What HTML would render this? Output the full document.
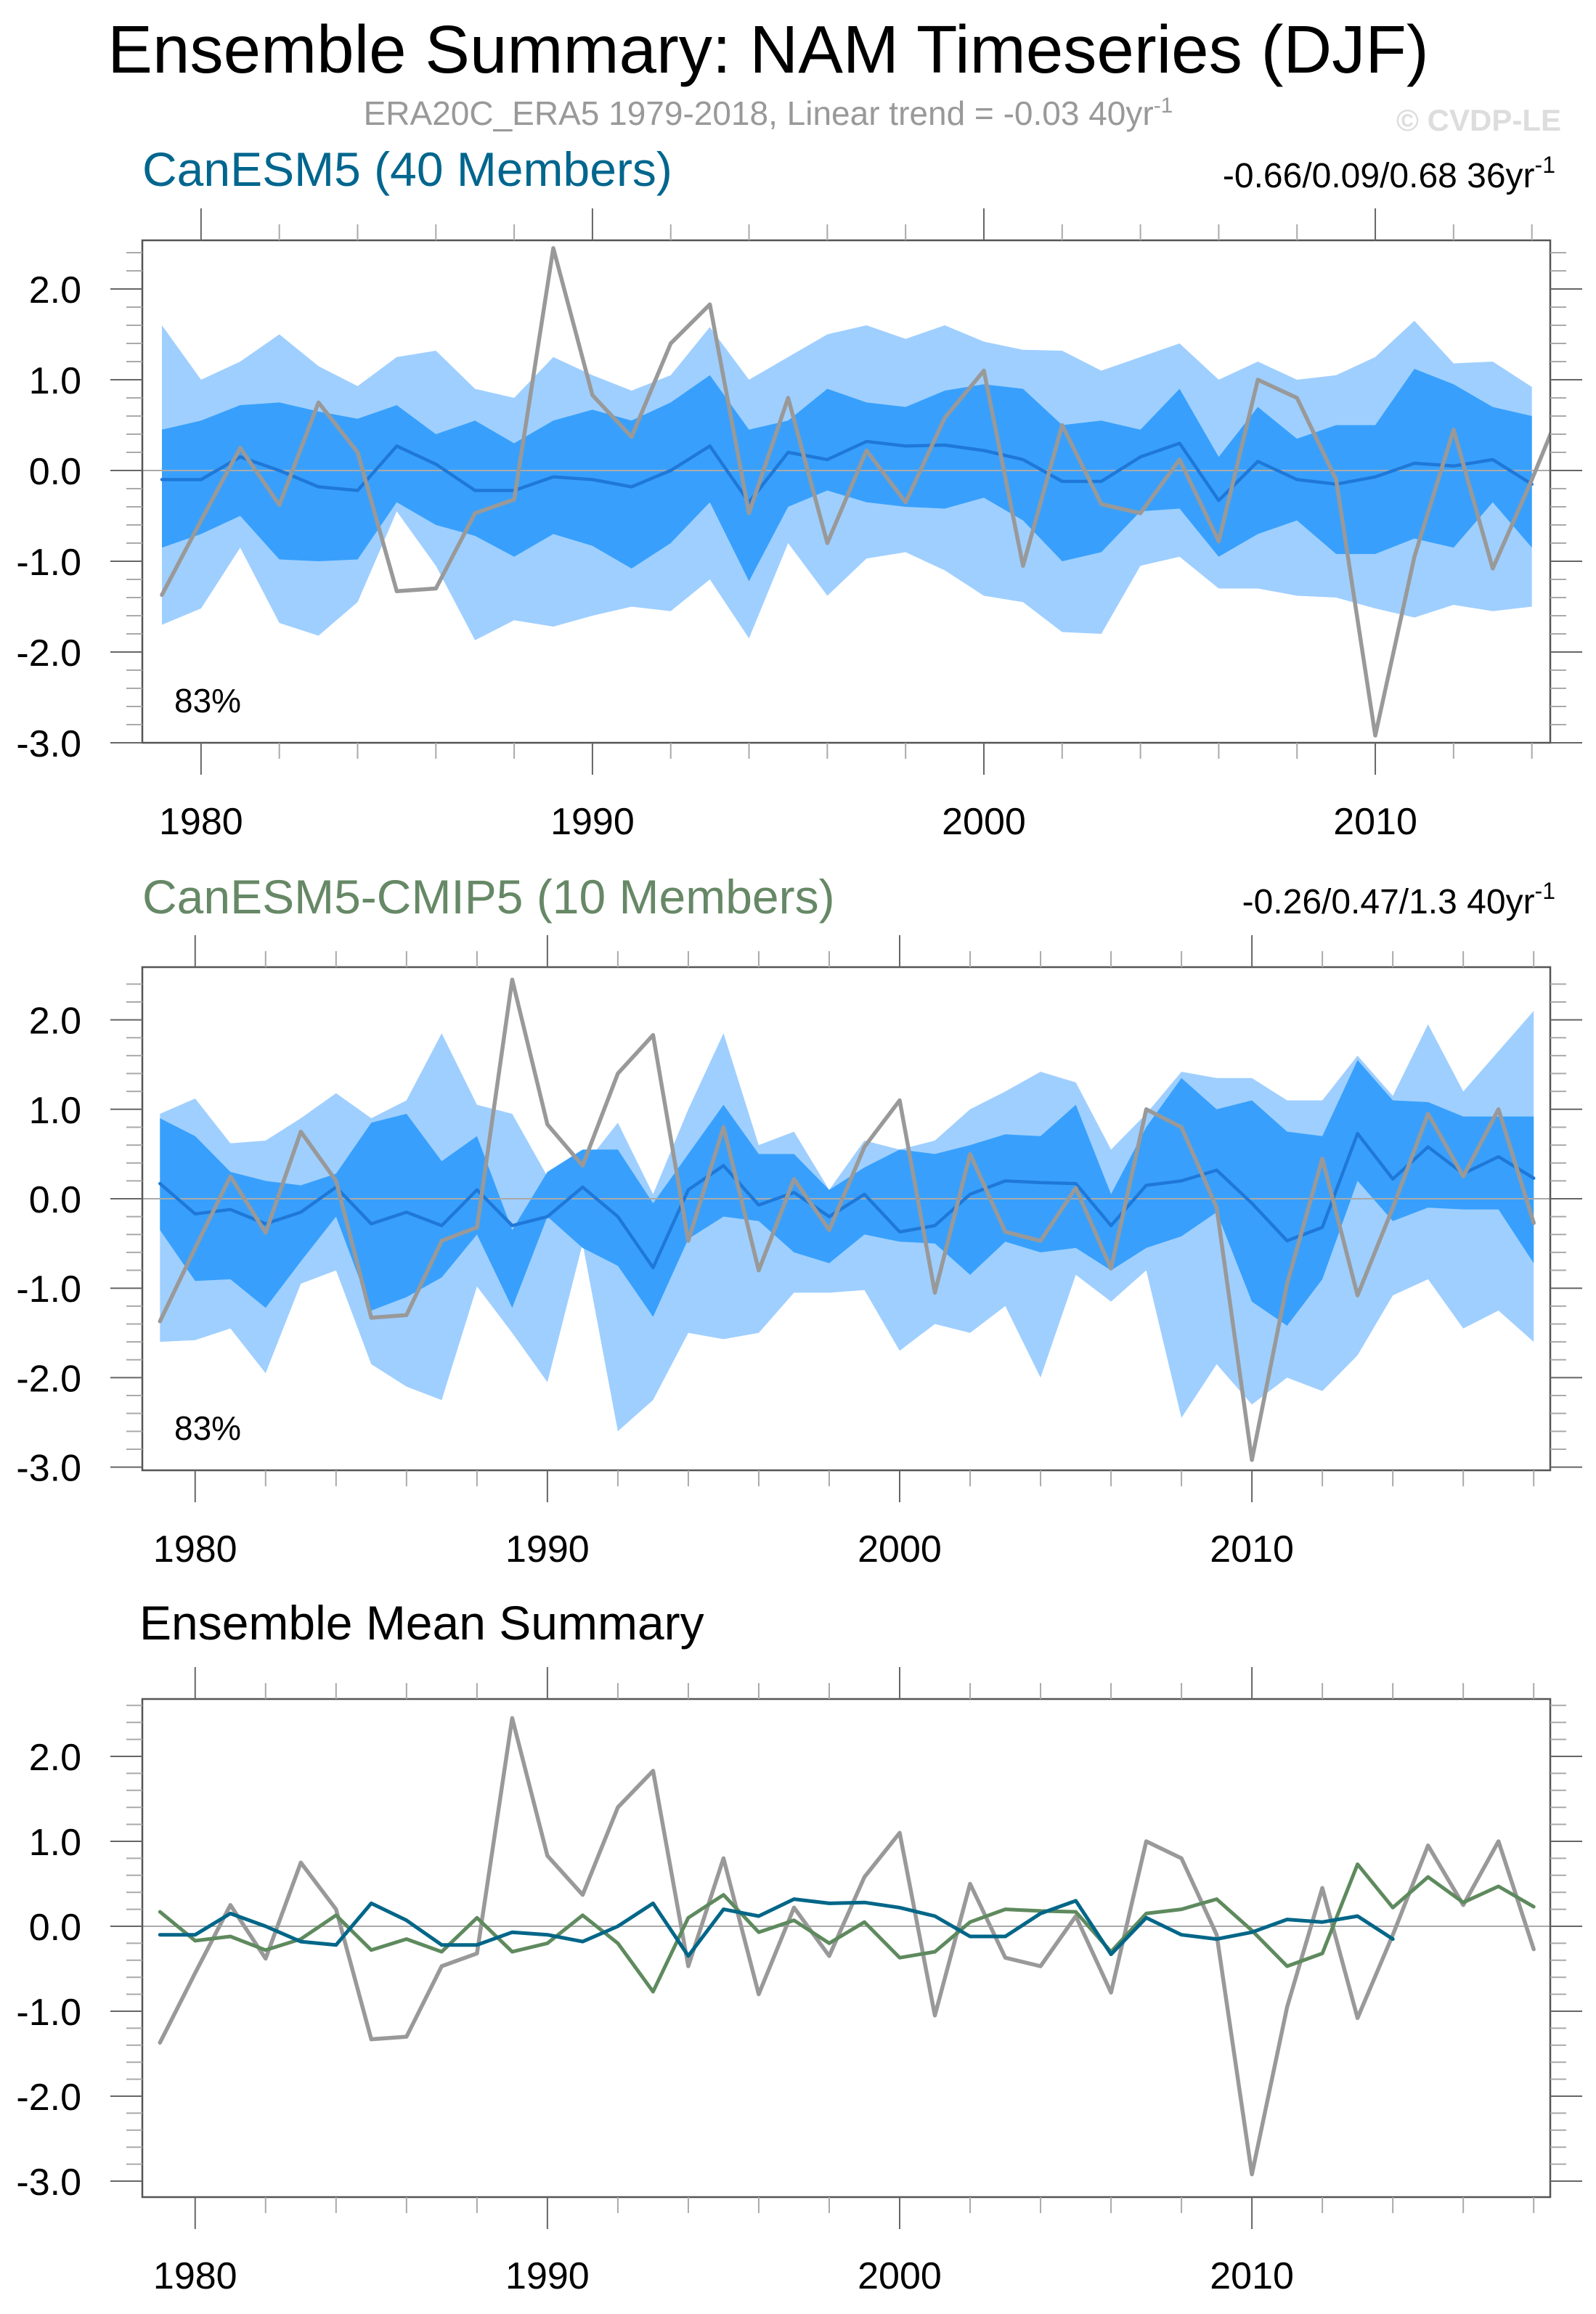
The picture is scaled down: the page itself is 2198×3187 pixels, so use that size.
<!DOCTYPE html>
<html><head><meta charset="utf-8"><style>
html,body{margin:0;padding:0;background:#fff;}
svg{display:block;font-family:"Liberation Sans",Arial,sans-serif;}
</style></head><body>
<svg id="chart" width="2198" height="3187" viewBox="0 0 2198 3187" xmlns="http://www.w3.org/2000/svg">
<text x="1058" y="100" font-size="92.5" text-anchor="middle" fill="#000">Ensemble Summary: NAM Timeseries (DJF)</text>
<text x="1058" y="172" font-size="46" text-anchor="middle" fill="#999">ERA20C_ERA5 1979-2018, Linear trend = -0.03 40yr<tspan dy="-17" font-size="30">-1</tspan></text>
<text x="2150" y="180" font-size="42" font-weight="bold" text-anchor="end" fill="#ddd">© CVDP-LE</text>

<text x="196" y="256" font-size="66" fill="#00668e">CanESM5 (40 Members)</text>
<text x="2142" y="258" font-size="48" text-anchor="end" fill="#000">-0.66/0.09/0.68 36yr<tspan dy="-20" font-size="32">-1</tspan></text>
<text x="196" y="1258" font-size="66" fill="#668866">CanESM5-CMIP5 (10 Members)</text>
<text x="2142" y="1258" font-size="48" text-anchor="end" fill="#000">-0.26/0.47/1.3 40yr<tspan dy="-20" font-size="32">-1</tspan></text>
<text x="192" y="2258" font-size="66" fill="#000">Ensemble Mean Summary</text>
<g id="plots"></g>
</svg>
<script>
const years1 = [];
for (let y = 1979; y <= 2014; y++) years1.push(y);
const years2 = [];
for (let y = 1979; y <= 2018; y++) years2.push(y);
const obsValues = [-1.37,-0.55,0.25,-0.38,0.75,0.2,-1.33,-1.3,-0.47,-0.32,2.45,0.83,0.37,1.4,1.83,-0.47,0.8,-0.8,0.22,-0.35,0.58,1.1,-1.05,0.5,-0.37,-0.47,0.12,-0.78,1.0,0.8,-0.1,-2.92,-0.95,0.45,-1.08,-0.1,0.95,0.25,1.0,-0.27];
const can5Mean = [-0.1,-0.1,0.15,0.0,-0.18,-0.22,0.27,0.07,-0.22,-0.22,-0.07,-0.1,-0.18,0.0,0.27,-0.35,0.2,0.12,0.32,0.27,0.28,0.22,0.12,-0.12,-0.12,0.15,0.3,-0.33,0.1,-0.1,-0.15,-0.07,0.08,0.05,0.12,-0.15];
const can5DarkUp = [0.45,0.55,0.72,0.75,0.65,0.57,0.72,0.4,0.55,0.3,0.55,0.67,0.55,0.75,1.05,0.45,0.55,0.9,0.75,0.7,0.88,0.95,0.9,0.5,0.55,0.45,0.9,0.15,0.7,0.35,0.5,0.5,1.12,0.95,0.7,0.6];
const can5DarkLo = [-0.85,-0.7,-0.5,-0.98,-1.0,-0.98,-0.35,-0.6,-0.72,-0.95,-0.7,-0.83,-1.08,-0.8,-0.35,-1.22,-0.4,-0.22,-0.35,-0.4,-0.42,-0.3,-0.55,-1.0,-0.9,-0.45,-0.42,-0.95,-0.7,-0.55,-0.92,-0.92,-0.75,-0.85,-0.35,-0.85];
const can5LightUp = [1.6,1.0,1.2,1.5,1.15,0.93,1.25,1.32,0.9,0.8,1.25,1.05,0.88,1.05,1.58,1.0,1.25,1.5,1.6,1.45,1.6,1.42,1.33,1.32,1.1,1.25,1.4,1.0,1.2,1.0,1.05,1.25,1.65,1.18,1.2,0.92];
const can5LightLo = [-1.7,-1.52,-0.85,-1.68,-1.82,-1.45,-0.45,-1.05,-1.87,-1.65,-1.72,-1.6,-1.5,-1.55,-1.2,-1.85,-0.8,-1.38,-0.97,-0.9,-1.1,-1.38,-1.45,-1.78,-1.8,-1.05,-0.95,-1.3,-1.3,-1.38,-1.4,-1.52,-1.62,-1.48,-1.55,-1.5];
const cmip5Mean = [0.17,-0.17,-0.12,-0.28,-0.15,0.13,-0.28,-0.15,-0.3,0.1,-0.3,-0.2,0.13,-0.2,-0.77,0.1,0.37,-0.07,0.07,-0.2,0.05,-0.37,-0.3,0.05,0.2,0.18,0.17,-0.3,0.15,0.2,0.32,-0.05,-0.47,-0.32,0.73,0.22,0.58,0.28,0.47,0.23];
const cmip5DarkUp = [0.9,0.7,0.3,0.2,0.15,0.28,0.85,0.95,0.42,0.7,-0.35,0.3,0.55,0.55,-0.05,0.5,1.05,0.5,0.5,0.1,0.35,0.55,0.5,0.6,0.72,0.7,1.05,0.05,0.8,1.35,1.0,1.1,0.75,0.7,1.55,1.1,1.08,0.92,0.92,0.92];
const cmip5DarkLo = [-0.35,-0.92,-0.9,-1.22,-0.7,-0.2,-1.25,-1.1,-0.88,-0.4,-1.22,-0.2,-0.55,-0.75,-1.32,-0.45,-0.2,-0.25,-0.6,-0.72,-0.4,-0.48,-0.5,-0.85,-0.48,-0.6,-0.55,-0.8,-0.55,-0.42,-0.15,-1.15,-1.42,-0.9,0.2,-0.25,-0.1,-0.12,-0.12,-0.72];
const cmip5LightUp = [0.95,1.12,0.62,0.65,0.9,1.18,0.9,1.1,1.85,1.05,0.95,0.25,0.35,0.85,0.05,1.0,1.85,0.6,0.75,0.1,0.65,0.55,0.65,1.0,1.2,1.42,1.3,0.55,0.95,1.42,1.35,1.35,1.1,1.1,1.6,1.15,1.95,1.2,1.65,2.1];
const cmip5LightLo = [-1.6,-1.58,-1.45,-1.95,-0.95,-0.8,-1.85,-2.1,-2.25,-0.98,-1.5,-2.05,-0.5,-2.6,-2.25,-1.5,-1.57,-1.5,-1.05,-1.05,-1.02,-1.7,-1.4,-1.5,-1.2,-2.0,-0.85,-1.15,-0.8,-2.45,-1.85,-2.3,-2.0,-2.15,-1.75,-1.08,-0.9,-1.45,-1.25,-1.6];
const yTickValues = [2.0,1.0,0.0,-1.0,-2.0,-3.0];
const yTickLabels = ["2.0","1.0","0.0","-1.0","-2.0","-3.0"];
const xTickYears = [1980,1990,2000,2010];
const pctLabel = "83%";

const NS = "http://www.w3.org/2000/svg";
const root = document.getElementById("plots");
function mk(tag, attrs, parent) {
  const e = document.createElementNS(NS, tag);
  for (const k in attrs) e.setAttribute(k, attrs[k]);
  (parent || root).appendChild(e);
  return e;
}

function panel(cfg) {
  const g = mk("g", {});
  
  
  const L = 196, R = 2135;
  const xs = v => L + (v - cfg.x0) / (cfg.x1 - cfg.x0) * (R - L);
  const ys = v => cfg.zeroY - v * cfg.ppu;
  const clip = mk("clipPath", { id: cfg.name + "-clip" }, g);
  mk("rect", { x: L, y: cfg.top, width: R - L, height: cfg.bottom - cfg.top }, clip);
  const inner = mk("g", { "clip-path": "url(#" + cfg.name + "-clip)" }, g);

  function band(yrs, up, lo, color, nm) {
    let d = "";
    yrs.forEach((y, i) => { d += (i ? "L" : "M") + xs(y).toFixed(1) + "," + ys(up[i]).toFixed(1); });
    for (let i = yrs.length - 1; i >= 0; i--) d += "L" + xs(yrs[i]).toFixed(1) + "," + ys(lo[i]).toFixed(1);
    const p = mk("path", { d: d + "Z", fill: color }, inner);
    
    
  }
  function line(yrs, vals, color, w, nm) {
    const pts = yrs.map((y, i) => xs(y).toFixed(1) + "," + ys(vals[i]).toFixed(1)).join(" ");
    const p = mk("polyline", { points: pts, fill: "none", stroke: color, "stroke-width": w, "stroke-linejoin": "round", "stroke-linecap": "round" }, inner);
    
    
  }
  if (cfg.bands) {
    band(cfg.years, cfg.bands[0], cfg.bands[1], "#9fcfff", "band-10-90-percent");
    band(cfg.years, cfg.bands[2], cfg.bands[3], "#38a0fc", "band-25-75-percent");
  }
  const zl = mk("line", { x1: L, x2: R, y1: ys(0), y2: ys(0), stroke: "#aaa", "stroke-width": 2 }, inner);
  
  
  cfg.lines.forEach(s => line(s.years, s.vals, s.color, s.w, s.name));

  const frame = mk("rect", { x: L, y: cfg.top, width: R - L, height: cfg.bottom - cfg.top, fill: "none", stroke: "#555", "stroke-width": 2.5 }, g);
  
  

  const ax = mk("g", { stroke: "#888", "stroke-width": 2 }, g);
  
  
  for (let k = -34; k <= 30; k += 2) {
    const v = k / 10, yy = ys(v);
    if (yy < cfg.top - 0.5 || yy > cfg.bottom + 0.5) continue;
    const major = k % 10 === 0;
    const len = major ? 44 : 22;
    mk("line", { x1: L - len, x2: L, y1: yy, y2: yy, stroke: major ? "#666" : "#aaa" }, ax);
    mk("line", { x1: R, x2: R + len, y1: yy, y2: yy, stroke: major ? "#666" : "#aaa" }, ax);
  }
  yTickValues.forEach((v, i) => {
    const t = mk("text", { x: 112, y: ys(v) + 19, "font-size": 52, "text-anchor": "end", fill: "#000" }, g);
    t.textContent = yTickLabels[i];
    
    
  });
  const xa = mk("g", { "stroke-width": 2 }, g);
  
  
  for (let yr = 1980; yr <= cfg.x1; yr += 2) {
    const xx = xs(yr);
    if (xx > R) continue;
    const major = yr % 10 === 0;
    const len = major ? 44 : 22;
    const c = major ? "#666" : "#aaa";
    mk("line", { x1: xx, x2: xx, y1: cfg.top - len, y2: cfg.top, stroke: c }, xa);
    mk("line", { x1: xx, x2: xx, y1: cfg.bottom, y2: cfg.bottom + len, stroke: c }, xa);
  }
  xTickYears.forEach(yr => {
    const t = mk("text", { x: xs(yr), y: cfg.bottom + 126, "font-size": 52, "text-anchor": "middle", fill: "#000" }, g);
    t.textContent = String(yr);
    
    
  });
  if (cfg.pct) {
    const t = mk("text", { x: 240, y: cfg.bottom - 42, "font-size": 46, fill: "#000" }, g);
    t.textContent = pctLabel;
    
    
  }
}

panel({ name: "panel-canesm5", x0: 1978.5, x1: 2014.47, top: 331, bottom: 1023, zeroY: 648, ppu: 125,
  years: years1, bands: [can5LightUp, can5LightLo, can5DarkUp, can5DarkLo], pct: true,
  lines: [
    { years: years1, vals: can5Mean, color: "#1f78d8", w: 4.5, name: "canesm5-ensemble-mean-line" },
    { years: years2, vals: obsValues, color: "#999", w: 5.5, name: "observed-nam-line" }
  ] });
panel({ name: "panel-canesm5-cmip5", x0: 1978.5, x1: 2018.47, top: 1332, bottom: 2025, zeroY: 1651, ppu: 123.2,
  years: years2, bands: [cmip5LightUp, cmip5LightLo, cmip5DarkUp, cmip5DarkLo], pct: true,
  lines: [
    { years: years2, vals: cmip5Mean, color: "#1f78d8", w: 4.5, name: "cmip5-ensemble-mean-line" },
    { years: years2, vals: obsValues, color: "#999", w: 5.5, name: "observed-nam-line" }
  ] });
panel({ name: "panel-ensemble-mean-summary", x0: 1978.5, x1: 2018.47, top: 2340, bottom: 3026, zeroY: 2653, ppu: 117,
  pct: false,
  lines: [
    { years: years2, vals: obsValues, color: "#999", w: 5.5, name: "observed-nam-line" },
    { years: years2, vals: cmip5Mean, color: "#5e8a5e", w: 5, name: "cmip5-mean-line" },
    { years: years1, vals: can5Mean, color: "#006688", w: 5, name: "canesm5-mean-line" }
  ] });
</script>
</body></html>
